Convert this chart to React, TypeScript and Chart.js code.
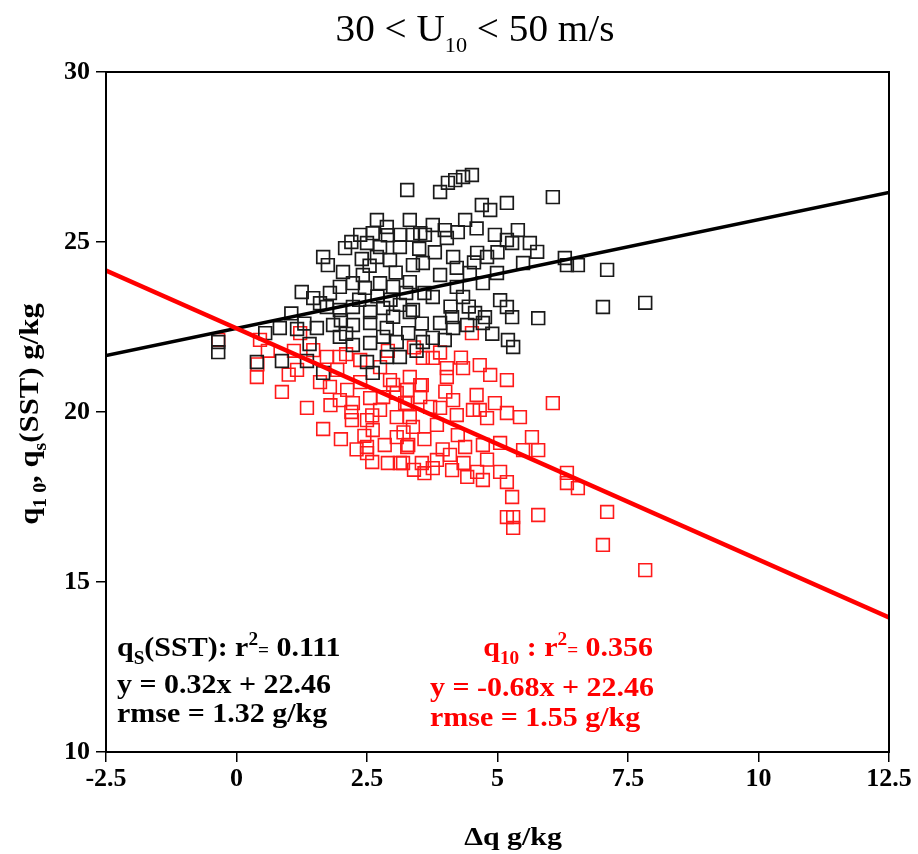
import { useEffect, useRef } from 'react'
import { Chart, registerables } from 'chart.js'

Chart.register(...registerables)

const X_TICKS = [-2.5, 0, 2.5, 5, 7.5, 10, 12.5]
const Y_TICKS = [10, 15, 20, 25, 30]

// q_s(SST) points (black squares)
const qsX = [
  3.27, 2.69, 2.88, 3.32, 2.37, 2.61, 3.13, 3.52, 2.08, 2.5, 2.75, 3.13, 1.66, 1.75, 2.04, 2.42, 2.69, 2.94, 3.38, 3.57,
  1.25, 1.47, 1.79, 1.98, 2.23, 2.46, 2.75, 3.0, 3.32, 1.73, 1.98, 2.23, 2.56, 2.81, 3.13, 3.38, 0.83, 0.55, 1.16, 1.54,
  1.85, 2.23, 2.56, 2.88, 3.29, 1.98, 2.23, 2.56, 2.81, 3.07, 3.57, 0.39, 0.87, 1.35, 1.66, 2.5, 2.61, 2.88, 3.13, -0.35,
  -0.35, 3.9, 4.05, 4.19, 4.34, 4.51, 6.06, 4.7, 4.86, 5.18, 3.76, 3.99, 4.38, 3.38, 3.61, 4.03, 4.24, 4.95, 5.18, 5.39,
  5.28, 5.62, 5.76, 4.15, 4.61, 4.8, 5.49, 6.29, 6.33, 6.54, 7.1, 3.9, 4.22, 4.47, 4.72, 4.99, 3.76, 4.34, 4.22, 3.32,
  5.05, 5.18, 5.28, 5.78, 4.13, 3.9, 4.15, 4.57, 4.76, 4.72, 4.42, 3.76, 3.99, 5.2, 5.3, 7.02, 7.83,
  1.05, 2.1, 2.7, 3.6, 3.0, 2.4, 3.8, 1.4, 2.9, 4.6, 4.45, 4.9, 3.5,
  2.2, 2.55, 3.05, 1.6, 2.0, 2.35, 2.95, 3.25, 3.55, 1.3, 4.1, 4.55, 5.0, 3.45,
]
const qsY = [
  26.53, 25.65, 25.44, 25.65, 25.21, 25.26, 25.21, 25.26, 24.82, 24.97, 24.85, 24.85, 24.56, 24.32, 24.12, 24.03, 24.56, 24.47, 24.32, 24.38,
  23.53, 23.35, 23.5, 23.68, 23.79, 23.65, 23.79, 23.68, 23.82, 23.09, 23.0, 23.09, 22.94, 23.06, 23.15, 23.0, 22.47, 22.32, 22.44, 22.47,
  22.56, 22.56, 22.62, 22.47, 22.32, 22.21, 21.97, 22.03, 22.21, 22.06, 22.06, 21.47, 21.5, 21.5, 21.15, 21.47, 21.15, 21.62, 21.62, 22.06,
  21.76, 26.47, 26.74, 26.82, 26.91, 26.97, 26.32, 26.09, 25.94, 26.15, 25.5, 25.35, 25.65, 25.21, 25.21, 25.12, 25.29, 25.21, 25.06, 25.35,
  24.97, 24.97, 24.71, 24.56, 24.68, 24.56, 24.38, 24.53, 24.32, 24.32, 24.18, 24.03, 24.24, 24.09, 23.79, 24.09, 23.38, 23.38, 23.68, 22.94,
  23.29, 23.09, 22.79, 22.76, 22.79, 22.62, 22.47, 22.91, 22.79, 22.62, 22.56, 22.18, 22.12, 22.12, 21.91, 23.09, 23.21,
  22.9, 22.3, 23.4, 23.5, 22.8, 24.5, 24.7, 22.0, 25.2, 25.4, 23.1, 22.3, 24.8,
  25.0, 24.3, 24.1, 23.2, 22.7, 23.3, 23.3, 23.5, 22.6, 22.6, 23.1, 24.4, 24.7, 21.8,
]

// q_10 points (red squares)
const q10X = [
  -0.35, 0.45, 0.39, 0.87, 1.35, 1.66, 1.16, 1.47, 1.22, 1.73, 1.6, 1.79, 1.93, 1.98, 2.12, 2.23, 2.21, 1.98, 2.37, 2.56,
  2.75, 2.5, 2.61, 2.5, 2.5, 2.6, 2.84, 3.07, 3.27, 3.13, 3.38, 3.32, 3.55, 3.07, 2.94, 3.32, 3.52, 3.52, 2.81, 3.07,
  3.27, 2.37, 2.75, 4.51, 3.57, 3.76, 4.03, 4.03, 4.34, 4.66, 4.86, 5.18, 3.55, 3.27, 3.23, 6.06, 4.15, 3.9, 3.71, 4.53,
  4.66, 4.95, 5.18, 5.43, 4.8, 4.22, 3.84, 3.29, 4.24, 4.38, 4.72, 5.05, 5.66, 5.78, 5.49, 3.19, 3.84, 4.09, 3.76, 4.13,
  4.61, 4.42, 4.72, 5.05, 5.18, 6.33, 6.33, 6.54, 5.28, 5.18, 5.3, 5.3, 5.78, 7.1, 7.02, 7.83,
  2.1, 2.9, 3.4, 3.9, 4.3, 1.1, 0.6, 0.4, 1.0, 2.0, 2.3, 3.6,
  2.2, 2.6, 3.2, 3.6, 3.95, 4.35, 2.9, 3.4, 4.8, 2.45, 3.0, 4.0, 4.6, 1.8,
]
const q10Y = [
  22.12, 22.12, 21.03, 20.59, 20.12, 19.5, 21.24, 21.82, 22.32, 21.62, 20.88, 20.74, 21.24, 20.35, 20.65, 20.26, 19.76, 21.62, 20.88, 20.41,
  20.06, 19.76, 19.47, 18.97, 18.79, 18.53, 19.03, 19.26, 18.97, 18.5, 19.56, 19.85, 18.5, 19.85, 20.94, 21.03, 20.79, 20.44, 20.44, 20.56,
  20.26, 21.53, 21.32, 22.32, 21.59, 21.59, 21.29, 21.03, 21.29, 21.38, 21.09, 20.94, 20.79, 20.65, 20.26, 20.26, 20.35, 20.12, 20.15, 20.06,
  20.06, 20.26, 19.97, 19.85, 19.82, 19.91, 19.62, 19.03, 19.32, 18.97, 19.03, 19.09, 19.26, 18.88, 18.88, 18.5, 18.59, 18.74, 18.35, 18.29,
  18.24, 18.09, 18.0, 18.24, 17.94, 18.21, 17.91, 17.76, 17.5, 16.91, 16.91, 16.59, 16.97, 17.06, 16.09, 15.35,
  21.7, 21.8, 21.9, 21.75, 21.6, 21.8, 21.8, 21.4, 21.1, 19.2, 18.9, 18.2,
  20.0, 19.9, 19.4, 19.2, 18.9, 18.5, 18.5, 18.3, 18.6, 19.3, 20.8, 20.6, 20.5, 20.2,
]

// least-squares fits shown in the figure
const FIT_X = [-2.5, 12.5]
const qsSlope = 0.32
const qsIntercept = 22.46
const q10Slope = -0.68
const q10Intercept = 22.46

const SERIF = '"Liberation Serif", "Times New Roman", serif'

type Seg = { t: string; sub?: boolean; sup?: boolean; small?: boolean }

// draws text with sub/superscripts, slightly stretched horizontally like the original figure
function drawRich(
  ctx: CanvasRenderingContext2D,
  segs: Seg[],
  x: number,
  y: number,
  size: number,
  weight: string,
  color: string,
  align: 'left' | 'right' | 'center',
  stretch = 1,
  subScale = 0.65,
  subDrop = 0.28,
) {
  const fontFor = (s: Seg) =>
    `${weight} ${Math.round(s.sub || s.sup || s.small ? size * subScale : size)}px ${SERIF}`
  let w = 0
  for (const s of segs) {
    ctx.font = fontFor(s)
    w += ctx.measureText(s.t).width
  }
  const total = w * stretch
  const startX = align === 'left' ? x : align === 'right' ? x - total : x - total / 2
  ctx.save()
  ctx.translate(startX, y)
  ctx.scale(stretch, 1)
  ctx.fillStyle = color
  ctx.textAlign = 'left'
  ctx.textBaseline = 'alphabetic'
  let cx = 0
  for (const s of segs) {
    ctx.font = fontFor(s)
    const dy = s.sub ? size * subDrop : s.sup ? -size * 0.38 : 0
    ctx.fillText(s.t, cx, dy)
    cx += ctx.measureText(s.t).width
  }
  ctx.restore()
}

const decorPlugin = {
  id: 'decor',
  afterDraw(chart: Chart) {
    const { ctx, chartArea } = chart
    ctx.save()
    // frame
    ctx.strokeStyle = '#000'
    ctx.lineWidth = 2
    ctx.strokeRect(chartArea.left, chartArea.top, chartArea.right - chartArea.left, chartArea.bottom - chartArea.top)

    // title
    drawRich(ctx, [{ t: '30 < U' }, { t: '10', sub: true }, { t: ' < 50 m/s' }], 475, 41, 37, 'normal', '#000', 'center', 1.06, 0.57, 0.3)

    // x axis title
    drawRich(ctx, [{ t: 'Δq g/kg' }], 513, 845, 26, 'bold', '#000', 'center', 1.15)

    // y axis title
    ctx.save()
    ctx.translate(38, 414)
    ctx.rotate(-Math.PI / 2)
    drawRich(
      ctx,
      [{ t: 'q' }, { t: '1 0', sub: true }, { t: ', q' }, { t: 's', sub: true }, { t: '(SST) g/kg' }],
      0, 0, 28, 'bold', '#000', 'center', 1.1,
    )
    ctx.restore()

    // fit statistics
    drawRich(
      ctx,
      [{ t: 'q' }, { t: 'S', sub: true }, { t: '(SST): r' }, { t: '2', sup: true }, { t: '=', small: true }, { t: ' 0.111' }],
      117, 656, 28, 'bold', '#000', 'left', 1.07,
    )
    drawRich(ctx, [{ t: 'y = 0.32x + 22.46' }], 117, 693, 28, 'bold', '#000', 'left', 1.07)
    drawRich(ctx, [{ t: 'rmse = 1.32 g/kg' }], 117, 722, 28, 'bold', '#000', 'left', 1.07)

    drawRich(
      ctx,
      [{ t: 'q' }, { t: '10', sub: true }, { t: ' : r' }, { t: '2', sup: true }, { t: '=', small: true }, { t: ' 0.356' }],
      653, 656, 28, 'bold', '#ff0000', 'right', 1.07,
    )
    drawRich(ctx, [{ t: 'y = -0.68x + 22.46' }], 430, 696, 28, 'bold', '#ff0000', 'left', 1.07)
    drawRich(ctx, [{ t: 'rmse = 1.55 g/kg' }], 430, 726, 28, 'bold', '#ff0000', 'left', 1.07)
    ctx.restore()
  },
}

export default function App() {
  const canvasRef = useRef<HTMLCanvasElement>(null)

  useEffect(() => {
    document.body.style.margin = '0'
    if (!canvasRef.current) return
    const ctx = canvasRef.current.getContext('2d')
    if (!ctx) return

    const qsPts = qsX.map((x, i) => ({ x, y: qsY[i] }))
    const q10Pts = q10X.map((x, i) => ({ x, y: q10Y[i] }))
    const qsLine = FIT_X.map((x) => ({ x, y: qsSlope * x + qsIntercept }))
    const q10Line = FIT_X.map((x) => ({ x, y: q10Slope * x + q10Intercept }))

    const chart = new Chart(ctx, {
      type: 'scatter',
      data: {
        datasets: [
          { label: 'q10 fit', data: q10Line, showLine: true, pointRadius: 0, borderColor: '#ff0000', borderWidth: 4.5 },
          { label: 'qs fit', data: qsLine, showLine: true, pointRadius: 0, borderColor: '#000', borderWidth: 3.5 },
          {
            label: 'qs(SST)', data: qsPts, pointStyle: 'rect', pointRadius: 9,
            borderColor: '#1a1a1a', backgroundColor: 'rgba(0,0,0,0)', borderWidth: 1.7,
          },
          {
            label: 'q10', data: q10Pts, pointStyle: 'rect', pointRadius: 9,
            borderColor: '#ff1a1a', backgroundColor: 'rgba(0,0,0,0)', borderWidth: 1.6,
          },
        ],
      },
      options: {
        responsive: false,
        animation: false,
        layout: { padding: { top: 72, right: 29, left: 0, bottom: 0 } },
        plugins: { legend: { display: false }, tooltip: { enabled: false } },
        scales: {
          x: {
            type: 'linear',
            min: -2.5,
            max: 12.5,
            afterFit: (scale) => { scale.height = 102 },
            afterBuildTicks: (scale) => { scale.ticks = X_TICKS.map((v) => ({ value: v })) },
            grid: { drawOnChartArea: false, drawTicks: true, tickLength: 10, color: '#000', lineWidth: 1.5 },
            border: { display: true, color: '#000', width: 2 },
            ticks: {
              color: '#000',
              padding: 2,
              font: { family: SERIF, size: 26, weight: 'bold' },
              callback: (v) => String(v),
            },
          },
          y: {
            type: 'linear',
            min: 10,
            max: 30,
            afterFit: (scale) => { scale.width = 106 },
            afterBuildTicks: (scale) => { scale.ticks = Y_TICKS.map((v) => ({ value: v })) },
            grid: { drawOnChartArea: false, drawTicks: true, tickLength: 10, color: '#000', lineWidth: 1.5 },
            border: { display: true, color: '#000', width: 2 },
            ticks: {
              color: '#000',
              padding: 6,
              font: { family: SERIF, size: 26, weight: 'bold' },
              callback: (v) => String(v),
            },
          },
        },
      },
      plugins: [decorPlugin],
    })

    return () => chart.destroy()
  }, [])

  return (
    <div style={{ width: 918, height: 854, background: '#fff' }}>
      <canvas ref={canvasRef} width={918} height={854} style={{ display: 'block' }}></canvas>
    </div>
  )
}
